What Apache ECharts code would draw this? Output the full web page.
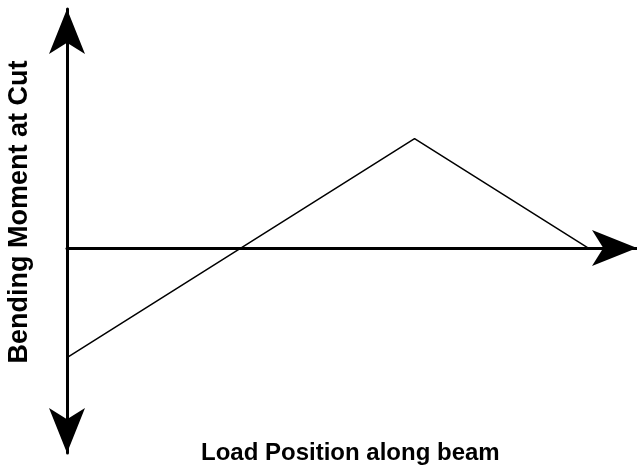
<!DOCTYPE html>
<html>
<head>
<meta charset="utf-8">
<script src="https://cdn.jsdelivr.net/npm/echarts@6/dist/echarts.min.js"></script>
<style>html,body{margin:0;padding:0;background:#fff;}#c{width:637px;height:467px;}</style>
</head>
<body>
<div id="c"></div>
<script>
// Influence line for bending moment at a cut (arbitrary units)
const loadPositions = [0, 1, 2, 3];
const momentValues = [-1, 0, 1, 0];
const xAxisTitle = 'Load Position along beam';
const yAxisTitle = 'Bending Moment at Cut';

const chart = echarts.init(document.getElementById('c'), null, {renderer: 'canvas'});
const FONT = '"Liberation Sans", Arial, sans-serif';

chart.setOption({
  animation: false,
  backgroundColor: '#ffffff',
  grid: {left: 67, right: 0, top: 9, bottom: 14, containLabel: false, outerBoundsMode: 'none'},
  xAxis: {
    type: 'value', min: 0, max: 3.28,
    axisLine: {onZero: true, symbol: ['none', 'arrow'], symbolSize: [27, 45], lineStyle: {color: '#000', width: 3}},
    axisTick: {show: false}, axisLabel: {show: false}, splitLine: {show: false}
  },
  yAxis: {
    type: 'value', min: -1.872, max: 2.183,
    axisLine: {onZero: false, symbol: ['arrow', 'arrow'], symbolSize: [27, 45], lineStyle: {color: '#000', width: 3}},
    axisTick: {show: false}, axisLabel: {show: false}, splitLine: {show: false}
  },
  graphic: [{
    type: 'text', left: 201, top: 441,
    style: {text: xAxisTitle, font: 'bold 24px ' + FONT, fill: '#000'}
  }, {
    type: 'text', x: 20, y: 212, rotation: Math.PI / 2,
    style: {text: yAxisTitle, font: 'bold 27px ' + FONT, fill: '#000', align: 'center', verticalAlign: 'middle'}
  }],
  series: [{
    type: 'line',
    data: loadPositions.map((x, i) => [x, momentValues[i]]),
    symbol: 'none',
    lineStyle: {color: '#000', width: 1.5},
    z: 1
  }]
});
</script>
</body>
</html>
